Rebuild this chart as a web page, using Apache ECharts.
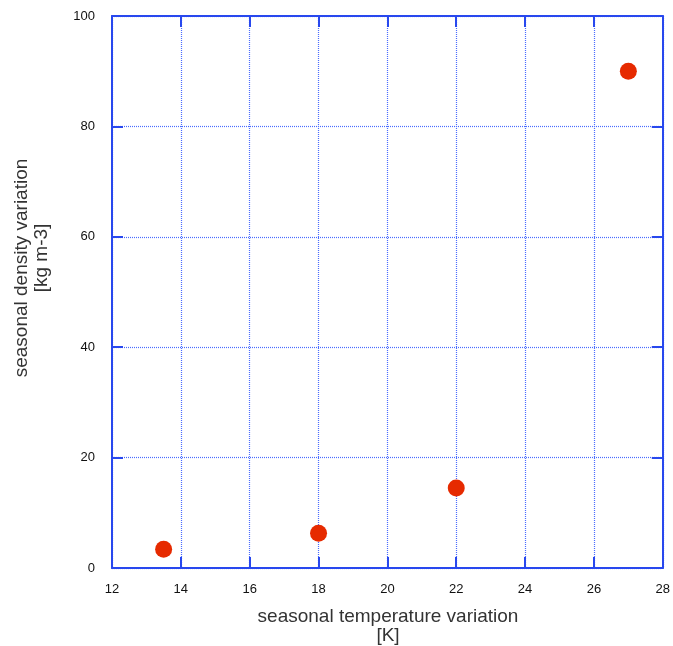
<!DOCTYPE html>
<html>
<head>
<meta charset="utf-8">
<script src="https://cdn.jsdelivr.net/npm/echarts@6/dist/echarts.min.js"></script>
<style>html,body{margin:0;padding:0;background:#fff;}#c{width:673px;height:646px;}</style>
</head>
<body>
<div id="c"></div>
<script>
const xValues = [13.5, 18, 22, 27];
const yValues = [3.4, 6.3, 14.5, 90];
const xTitle = ['seasonal temperature variation', '[K]'];
const yTitle = ['seasonal density variation', '[kg m-3]'];

const blue = '#2848ee';
const font = 'Liberation Sans, Arial, sans-serif';
const chart = echarts.init(document.getElementById('c'), null, {renderer: 'canvas'});
const axBase = {
  axisLine: {show: true, onZero: false, lineStyle: {color: blue, width: 2}},
  axisTick: {show: true, inside: true, length: 11, lineStyle: {color: blue, width: 2}},
  splitLine: {show: false}
};
const gridLine = {show: true, lineStyle: {color: '#4a6cff', type: [1, 1], width: 1.2, opacity: 1}};
chart.setOption({
  animation: false,
  backgroundColor: '#fff',
  grid: {left: 112, right: 8, top: 16, bottom: 78, containLabel: false},
  xAxis: [
    Object.assign({}, axBase, {
      type: 'value', min: 12, max: 28, interval: 2, position: 'bottom',
      axisLabel: {color: '#111', fontSize: 13, fontFamily: font, margin: 15},
      splitLine: gridLine
    }),
    Object.assign({}, axBase, {
      type: 'value', min: 12, max: 28, interval: 2, position: 'top',
      axisLabel: {show: false}
    })
  ],
  yAxis: [
    Object.assign({}, axBase, {
      type: 'value', min: 0, max: 100, interval: 20, position: 'left',
      axisLabel: {color: '#111', fontSize: 13, fontFamily: font, margin: 17},
      splitLine: gridLine
    }),
    Object.assign({}, axBase, {
      type: 'value', min: 0, max: 100, interval: 20, position: 'right',
      axisLabel: {show: false}
    })
  ],
  graphic: [
    {type: 'text', x: 388, y: 617, style: {text: xTitle[0], font: '19px ' + font, fill: '#333', align: 'center', verticalAlign: 'middle'}},
    {type: 'text', x: 388, y: 636, style: {text: xTitle[1], font: '19px ' + font, fill: '#333', align: 'center', verticalAlign: 'middle'}},
    {type: 'text', x: 22, y: 268, rotation: Math.PI / 2, style: {text: yTitle[0], font: '19px ' + font, fill: '#333', align: 'center', verticalAlign: 'middle'}},
    {type: 'text', x: 42, y: 258, rotation: Math.PI / 2, style: {text: yTitle[1], font: '19px ' + font, fill: '#333', align: 'center', verticalAlign: 'middle'}}
  ],
  series: [{
    type: 'scatter',
    data: xValues.map((x, i) => [x, yValues[i]]),
    symbol: 'circle',
    symbolSize: 17,
    itemStyle: {color: '#e62a00', opacity: 1},
    z: 5
  }]
});
</script>
</body>
</html>
